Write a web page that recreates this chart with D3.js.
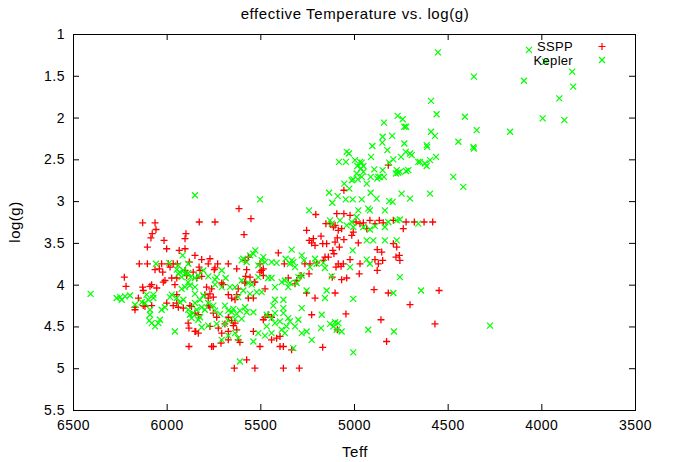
<!DOCTYPE html>
<html>
<head>
<meta charset="utf-8">
<script src="https://cdn.jsdelivr.net/npm/d3@7"></script>
<style>
  body { margin: 0; background: #fff; }
  svg text { font-family: "Liberation Sans", Arial, sans-serif; fill: #000; }
</style>
</head>
<body>
<svg id="chart" width="673" height="462"></svg>
<script>
// axis ticks
var xTicks = [6500, 6000, 5500, 5000, 4500, 4000, 3500];
var yTicks = [1, 1.5, 2, 2.5, 3, 3.5, 4, 4.5, 5, 5.5];

// SSPP stars: [Teff, log(g)]
var ssppPoints = [
  [4626,3.25],[4580,3.25],[4546,4.07],[4568,4.47],
  [5204,3.16],[4817,2.57],[5054,2.87],
  [5092,3.15],[5054,3.15],[5021,3.17],[5128,3.27],[5150,3.27],[5101,3.29],[4989,3.25],[4950,3.26],[4915,3.23],
  [4865,3.23],[4790,3.23],[4722,3.25],[4678,3.25],[4737,3.33],[4932,3.33],[5066,3.33],[5089,3.44],[5054,3.46],
  [5012,3.41],[4977,3.50],[5146,3.51],[5167,3.51],[5101,3.49],[5113,3.59],[5107,3.63],[5078,3.55],[5137,3.67],
  [5164,3.71],[5155,3.67],[5084,3.75],[5069,3.78],[5057,3.75],[5096,3.79],[5021,3.70],[4968,3.75],[5039,3.92],
  [5066,3.94],[4972,3.87],[5116,3.91],[4876,3.58],[4852,3.61],[4888,3.70],[4847,3.71],[4870,3.75],[4876,3.83],
  [4790,3.51],[4772,3.55],[4758,3.65],[4776,3.67],[4755,3.71],[4893,4.06],[4817,4.10],[5101,4.10],[4701,4.24],
  [5043,4.35],[4856,4.42],[5089,4.54],[4826,4.68],[5167,4.75],[4968,3.27],[4888,3.27],[4844,3.26],[5084,3.35],
  [5110,3.31],[5004,3.37],
  [6128,3.26],[6062,3.26],[6057,3.34],[6077,3.39],[6084,3.44],[5897,3.39],[5902,3.45],[6014,3.47],[5826,3.25],
  [6103,3.55],[6000,3.57],[5933,3.59],[5902,3.57],[5849,3.65],[6146,3.75],[6103,3.75],[6027,3.75],[5991,3.75],
  [5965,3.75],[5943,3.75],[5879,3.73],[6062,3.82],[6039,3.81],[6226,3.91],[6021,3.85],[5982,3.79],[6009,3.95],
  [5973,3.92],[5946,3.92],[5902,3.83],[5893,3.89],[5858,3.85],[5840,3.92],
  [6217,4.02],[6128,4.03],[6125,4.07],[6089,4.02],[6080,4.00],[6053,4.04],[6151,4.16],[6169,4.27],[6169,4.30],
  [6125,4.25],[6116,4.26],[6080,4.25],[6018,3.97],[5956,4.00],[6000,4.22],[5965,4.25],[5946,4.22],[5938,4.27],
  [5946,4.12],[5911,4.28],[5876,4.25],[5867,4.26],[5849,4.34],[5831,4.36],[5885,4.46],[5881,4.52],[5845,4.56],
  [5881,4.74],
  [5614,3.09],[5550,3.21],[5742,3.25],[5587,3.40],[5253,3.35],[5239,3.47],[5226,3.50],[5217,3.45],[5208,3.53],
  [5176,3.42],[5769,3.69],[5813,3.70],[5778,3.75],[5728,3.75],[5671,3.75],[5827,3.79],[5564,3.67],[5582,3.71],
  [5626,3.81],[5573,3.82],[5502,3.75],[5493,3.83],[5484,3.81],[5404,3.62],[5372,3.75],[5262,3.75],[5235,3.75],
  [5199,3.74],[5578,3.90],[5555,3.91],[5582,3.97],[5532,3.97],[5742,3.80],[5746,3.82],[5813,3.90],[5822,3.83],
  [5502,3.85],[5484,3.89],[5351,3.92],[5306,3.95],[5283,3.89],[5240,3.87],
  [5787,4.03],[5760,4.05],[5751,4.15],[5778,4.16],[5796,4.12],[5769,4.11],[5698,4.00],[5706,3.98],[5671,4.12],
  [5653,4.16],[5635,4.18],[5626,4.12],[5582,3.98],[5564,4.16],[5537,4.16],[5529,3.97],[5475,4.05],[5618,4.05],
  [5778,4.25],[5769,4.27],[5751,4.34],[5733,4.39],[5689,4.47],[5653,4.43],[5644,4.49],[5635,4.46],[5671,4.39],
  [5626,4.54],[5831,4.58],[5849,4.56],[5769,4.50],[5724,4.52],[5706,4.58],[5671,4.56],[5671,4.66],[5618,4.66],
  [5609,4.69],[5537,4.56],[5502,4.74],[5484,4.42],[5573,4.90],[5639,5.00],[5529,5.00],[5377,5.00],[5292,5.00],
  [5395,4.74],[5377,4.74],[5440,4.66],[5413,4.64],[5395,4.62],[5440,4.39],[5458,4.36],[5475,4.39],[5315,3.99],
  [5253,4.10],[5226,4.36],[5208,4.16],[5333,4.78],[5760,4.74],[5751,4.74],[5710,4.70]
];

// Kepler stars: [Teff, log(g)]
var keplerPoints = [
  [4360,1.51],[4093,1.56],[3835,1.45],[3830,1.63],[3904,1.77],[3993,2.01],[3877,2.03],[4589,1.80],[4559,1.96],
  [4408,1.99],[4345,2.15],[4167,2.17],[4589,2.17],[4568,2.22],[4612,2.33],[4609,2.35],[4443,2.29],[4363,2.35],
  [4360,2.37],[4648,2.53],[4621,2.55],[4612,2.58],[4594,2.51],[4562,2.47],[4470,2.71],[4417,2.83],[4594,2.91],
  [4274,4.49],[4642,4.07],[4552,1.22],[4066,1.19],[3980,1.33],
  [4767,1.98],[4740,2.02],[4731,2.11],[4722,2.11],[4840,2.06],[4847,2.23],[4796,2.22],[4849,2.30],[4902,2.34],
  [4822,2.39],[4731,2.31],[5039,2.41],[5027,2.43],[5080,2.53],[5043,2.53],[4995,2.51],[4968,2.53],[4982,2.58],
  [4950,2.58],[4959,2.54],[4909,2.47],[4812,2.54],[4790,2.50],[4749,2.47],[4724,2.41],[4701,2.43],[4692,2.45],
  [4657,2.53],[4892,2.62],[4847,2.63],[4870,2.71],[4840,2.71],[4772,2.63],[4764,2.66],[4776,2.67],[4755,2.65],
  [4722,2.64],[4710,2.63],[4963,2.61],[4950,2.65],[4986,2.67],[4959,2.71],[4980,2.74],[5004,2.74],[5012,2.75],
  [4932,2.79],[4911,2.71],[4876,2.73],[4861,2.71],[5025,2.85],[5052,2.79],[5133,2.90],[5087,2.94],[5116,3.02],
  [5044,2.98],[5007,2.98],[4959,2.98],[4911,2.90],[4879,2.97],[4812,3.00],[4794,3.01],[4746,2.91],[4701,2.97],
  [4977,3.11],[4924,3.09],[4915,3.11],[4835,3.11],[5240,3.11],
  [5128,3.23],[5119,3.27],[5075,3.23],[5039,3.29],[5012,3.25],[4986,3.19],[5004,3.31],[4950,3.31],[4915,3.34],
  [4888,3.30],[4835,3.31],[4817,3.25],[4772,3.23],[4755,3.22],[4657,3.27],[4932,3.47],[4897,3.47],[4835,3.47],
  [4772,3.47],[5007,3.59],[4932,3.70],[4915,3.75],[5155,3.80],[5021,3.79],[5119,3.90],[4755,3.91],[5146,4.07],
  [5155,4.16],[5004,4.17],[4790,4.10],[5128,4.47],[5101,4.45],[5084,4.46],[5110,4.50],[5092,4.54],[5066,4.56],
  [4924,4.54],[4787,4.56],[5004,4.81],
  [5849,2.93],[5915,3.65],[6057,3.75],[5986,3.74],[5938,3.77],[5885,3.75],[5946,3.82],[5929,3.85],[5938,3.87],
  [5911,3.83],[5902,3.87],[5885,3.86],[5872,3.91],[5920,3.91],[5849,3.92],[5831,3.89],
  [6406,4.11],[6267,4.16],[6240,4.18],[6222,4.14],[6196,4.13],[6249,4.15],[6169,4.24],[6133,4.21],[6116,4.22],
  [6098,4.18],[6089,4.30],[6089,4.36],[6093,4.43],[6080,4.46],[6062,4.50],[6044,4.46],[6036,4.42],[6071,4.16],
  [6071,4.12],[6107,4.12],[6027,4.30],[6009,4.27],[5982,4.15],[5973,4.12],[5946,4.16],[5911,4.18],[5929,4.21],
  [5920,4.05],[5902,4.03],[5876,4.01],[5885,3.97],[5849,4.03],[5956,4.56],[5885,4.30],[5876,4.36],[5858,4.34],
  [5840,4.30],[5867,4.40],[5831,4.42],
  [5502,2.98],[5527,3.59],[5555,3.65],[5537,3.63],[5600,3.71],[5573,3.73],[5591,3.69],[5484,3.67],[5493,3.71],
  [5475,3.73],[5440,3.73],[5413,3.74],[5511,3.77],[5333,3.58],[5324,3.73],[5333,3.71],[5342,3.75],[5315,3.79],
  [5365,3.69],[5279,3.65],[5267,3.71],[5208,3.69],[5199,3.75],[5235,3.79],[5164,3.74],[5804,3.83],[5778,3.90],
  [5733,3.91],[5706,3.83],[5685,3.92],[5742,3.94],[5600,3.95],[5564,3.98],[5511,3.91],[5458,3.92],[5440,3.92],
  [5386,3.97],[5369,3.95],[5297,3.91],[5279,3.89],[5306,3.98],
  [5804,4.13],[5849,4.11],[5822,4.18],[5849,4.22],[5813,4.27],[5796,4.30],[5822,4.39],[5778,4.49],[5813,4.51],
  [5742,4.00],[5706,4.03],[5662,4.03],[5635,4.03],[5591,4.07],[5546,4.00],[5519,4.09],[5555,4.11],[5493,4.09],
  [5618,4.15],[5778,4.22],[5751,4.25],[5742,4.31],[5715,4.35],[5689,4.25],[5671,4.31],[5653,4.33],[5644,4.29],
  [5626,4.35],[5609,4.31],[5582,4.27],[5600,4.41],[5573,4.33],[5537,4.33],[5635,4.41],[5671,4.43],[5689,4.47],
  [5733,4.47],[5706,4.66],[5671,4.61],[5635,4.58],[5618,4.64],[5537,4.68],[5511,4.58],[5475,4.61],[5440,4.58],
  [5422,4.46],[5466,4.50],[5466,4.36],[5440,4.40],[5422,4.34],[5395,4.44],[5377,4.34],[5351,4.40],[5360,4.50],
  [5386,4.54],[5369,4.58],[5297,4.42],[5315,4.50],[5279,4.58],[5253,4.56],[5226,4.66],[5342,4.44],[5377,4.28],
  [5431,4.25],[5422,4.18],[5377,4.18],[5422,4.03],[5351,4.03],[5253,4.07],[5279,4.28],[5172,4.36],[5176,4.52],
  [5324,4.76],[5609,4.92],[5342,3.98]
];

var svg = d3.select("#chart");
var margin = {left: 73, top: 34, right: 38, bottom: 52};
var width = 673 - margin.left - margin.right;
var height = 462 - margin.top - margin.bottom;

var x = d3.scaleLinear().domain([6500, 3500]).range([margin.left, margin.left + width]);
var y = d3.scaleLinear().domain([1, 5.5]).range([margin.top, margin.top + height]);

// title and axis labels
svg.append("text").attr("x", 355).attr("y", 19).attr("text-anchor", "middle")
  .style("font-size", "15px").style("letter-spacing", "0.6px").text("effective Temperature vs. log(g)");
svg.append("text").attr("x", 355).attr("y", 457).attr("text-anchor", "middle")
  .style("font-size", "15px").style("letter-spacing", "0.5px").text("Teff");
svg.append("text").attr("transform", "translate(20,222) rotate(-90)").attr("text-anchor", "middle")
  .style("font-size", "15px").style("letter-spacing", "0.5px").text("log(g)");

// axes, ticks pointing inward like gnuplot, mirrored on top/right
function styleAxis(g) {
  g.select(".domain").remove();
  g.selectAll("line").attr("stroke", "#000");
  g.selectAll("text").style("font-size", "14px").style("letter-spacing", "0.5px").attr("font-family", null);
}
svg.append("g").attr("transform", "translate(0," + (margin.top + height) + ")")
  .call(d3.axisBottom(x).tickValues(xTicks).tickSizeInner(-6).tickSizeOuter(0).tickPadding(10).tickFormat(d3.format("d")))
  .call(styleAxis);
svg.append("g").attr("transform", "translate(0," + margin.top + ")")
  .call(d3.axisTop(x).tickValues(xTicks).tickSizeInner(-6).tickSizeOuter(0).tickFormat(""))
  .call(styleAxis);
svg.append("g").attr("transform", "translate(" + margin.left + ",0)")
  .call(d3.axisLeft(y).tickValues(yTicks).tickSizeInner(-6).tickSizeOuter(0).tickPadding(8).tickFormat(function(d) { return d; }))
  .call(styleAxis);
svg.append("g").attr("transform", "translate(" + (margin.left + width) + ",0)")
  .call(d3.axisRight(y).tickValues(yTicks).tickSizeInner(-6).tickSizeOuter(0).tickFormat(""))
  .call(styleAxis);

svg.append("rect")
  .attr("x", margin.left + 0.5).attr("y", margin.top + 0.5)
  .attr("width", width).attr("height", height)
  .attr("fill", "none").attr("stroke", "#000").attr("stroke-width", 1);

var plusPath = "M-3.5,0H3.5M0,-3.5V3.5";
var crossPath = "M-3,-3L3,3M-3,3L3,-3";

// SSPP first, Kepler on top
svg.append("g").selectAll("path")
  .data(ssppPoints).enter().append("path")
  .attr("transform", function(d) { return "translate(" + x(d[0]) + "," + y(d[1]) + ")"; })
  .attr("d", plusPath).attr("stroke", "#ff0000").attr("stroke-width", 1.3).attr("fill", "none");

svg.append("g").selectAll("path")
  .data(keplerPoints).enter().append("path")
  .attr("transform", function(d) { return "translate(" + x(d[0]) + "," + y(d[1]) + ")"; })
  .attr("d", crossPath).attr("stroke", "#00ff00").attr("stroke-width", 1.2).attr("fill", "none");

// key
var key = [
  {name: "SSPP", path: plusPath, color: "#ff0000"},
  {name: "Kepler", path: crossPath, color: "#00ff00"}
];
var keyG = svg.append("g");
key.forEach(function(k, i) {
  keyG.append("text").attr("x", 573).attr("y", 51 + i * 13.5).attr("text-anchor", "end")
    .style("font-size", "13px").style("letter-spacing", "0.3px").text(k.name);
  keyG.append("path").attr("transform", "translate(602," + (46.5 + i * 13.5) + ")")
    .attr("d", k.path).attr("stroke", k.color).attr("stroke-width", 1.2).attr("fill", "none");
});
</script>
</body>
</html>
